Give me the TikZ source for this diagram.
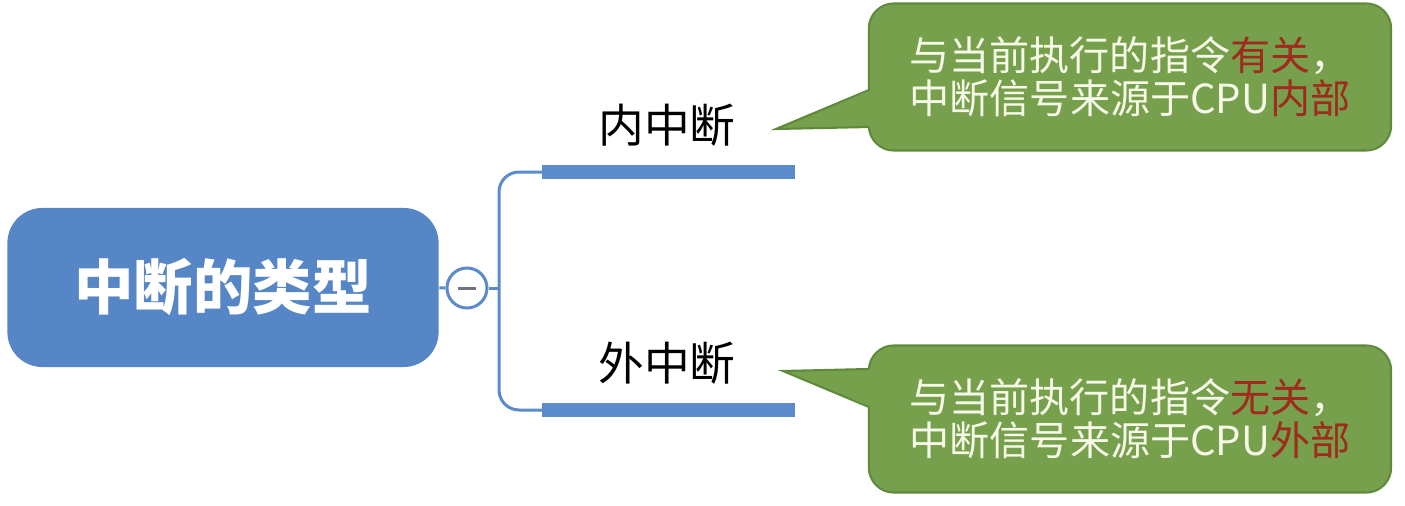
\documentclass[tikz,border=0pt]{standalone}
\usepackage{fontspec}
\setmainfont{Noto Sans CJK SC}
\usetikzlibrary{positioning}
\definecolor{rootblue}{HTML}{5686C6}
\definecolor{linkblue}{HTML}{5B8BCB}
\definecolor{notegreen}{HTML}{76A04B}
\definecolor{noteline}{HTML}{5F8A3C}
\definecolor{notetext}{HTML}{F6F8E8}
\definecolor{keyred}{HTML}{9E2B1D}
\definecolor{minusgray}{HTML}{707482}

\begin{document}
\begin{tikzpicture}[x=0.01cm, y=-0.01cm,
		every node/.style={inner sep=0pt},
		rootbox/.style={rectangle, rounded corners=0.35cm, fill=rootblue, text=white, font=\fontsize{16.9pt}{20pt}\selectfont\bfseries, minimum width=4.31cm, minimum height=1.59cm},
		toggle/.style={circle, draw=linkblue, line width=0.03cm, fill=white, minimum size=0.4cm},
		branch/.style={font=\fontsize{13pt}{15pt}\selectfont},
		notebox/.style={rectangle, rounded corners=0.25cm, fill=notegreen, draw=noteline, line width=0.6pt, text=notetext, align=center, font=\fontsize{11.4pt}{12.2pt}\selectfont, minimum width=5.22cm, minimum height=1.47cm},
		link/.style={draw=linkblue, line width=0.03cm},
		bar/.style={draw=linkblue, line width=0.13cm}]
			\useasboundingbox (0,0) rectangle (1405,506);
			
			% root and toggle
			\node[rootbox] (root) at (223,287.5){中断的类型};
			\node[toggle] (t) at (467,288){};
			\draw[minusgray, line width=0.03cm] ([xshift=-0.09cm]t.center) -- ([xshift=0.09cm]t.center);
			
			\coordinate (trunk) at (499,288);
			\coordinate (b1s) at (542,172);
			\coordinate (b1e) at (795,172);
			\coordinate (b2s) at (542,410);
			\coordinate (b2e) at (795,410);
			
			\path[link] (root) -- (t);
			\path[link] (t) -- (trunk);
			\path[link, rounded corners=0.2cm] (trunk) |- (b1s);
			\path[link, rounded corners=0.2cm] (trunk) |- (b2s);
			\path[bar] (b1s) -- (b1e);
			\path[bar] (b2s) -- (b2e);
			
			\node[branch] (in) at (667,125){内中断};
			\node[branch] (out) at (667,363){外中断};
			
			% callouts
			\node[notebox] (n1) at (1130,77){与当前执行的指令\textcolor{keyred}{有关}，\\中断信号来源于CPU\textcolor{keyred}{内部}};
			\node[notebox] (n2) at (1130,419){与当前执行的指令\textcolor{keyred}{无关}，\\中断信号来源于CPU\textcolor{keyred}{外部}};
			
			\coordinate (p1) at (776,129);
			\coordinate (p2) at (783,371);
			\fill[notegreen] (872,90) -- (p1) -- (872,127) -- cycle;
			\draw[noteline, line width=0.6pt] (869,90) -- (p1) -- (869,127);
			\fill[notegreen] (872,369) -- (p2) -- (872,407) -- cycle;
			\draw[noteline, line width=0.6pt] (869,369) -- (p2) -- (869,407);
			\end{tikzpicture}
\end{document}
